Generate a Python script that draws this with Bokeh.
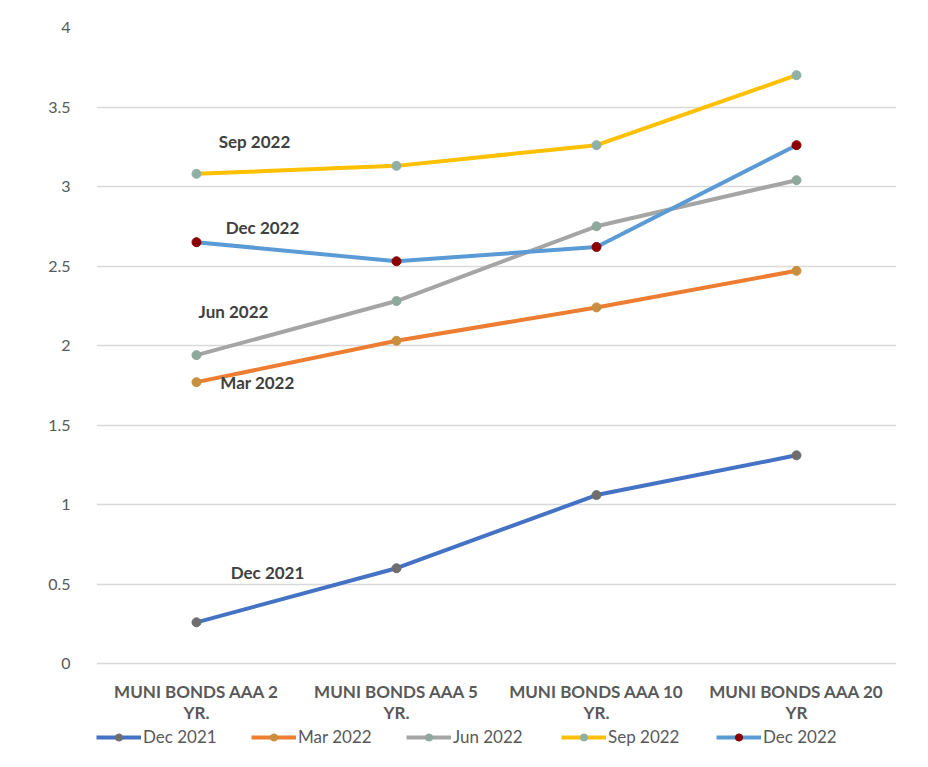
from bokeh.plotting import figure
from bokeh.models import Legend, FixedTicker, ColumnDataSource
from bokeh.core.properties import value
from bokeh.embed import file_html
from bokeh.resources import INLINE

categories = ["MUNI BONDS AAA 2\nYR.", "MUNI BONDS AAA 5\nYR.",
              "MUNI BONDS AAA 10\nYR.", "MUNI BONDS AAA 20\nYR"]
series_names = ["Dec 2021", "Mar 2022", "Jun 2022", "Sep 2022", "Dec 2022"]
dec_2021 = [0.26, 0.60, 1.06, 1.31]
mar_2022 = [1.77, 2.03, 2.24, 2.47]
jun_2022 = [1.94, 2.28, 2.75, 3.04]
sep_2022 = [3.08, 3.13, 3.26, 3.70]
dec_2022 = [2.65, 2.53, 2.62, 3.26]
y_ticks = [0, 0.5, 1, 1.5, 2, 2.5, 3, 3.5, 4]
y_tick_labels = ["0", "0.5", "1", "1.5", "2", "2.5", "3", "3.5", "4"]

all_series = [dec_2021, mar_2022, jun_2022, sep_2022, dec_2022]
line_colors = ["#4472C4", "#ED7D31", "#A5A5A5", "#FFC000", "#5B9BD5"]
marker_colors = ["#6E6E6E", "#C8903E", "#8FA89E", "#8FB0A6", "#8B0000"]
# label offsets (pixels) relative to first point of each series
label_dx = [71, 61, 37, 58, 66]
label_dy = [-50, 0, -44, -32, -15]

FONT = "Lato"

# frame extends below 0 to leave room for category labels and legend
p = figure(x_range=categories, y_range=(-0.59, 4), frame_width=800, frame_height=730,
           output_backend="svg", toolbar_location=None,
           min_border_left=96, min_border_right=20, min_border_top=27,
           min_border_bottom=4)
p.outline_line_color = None

legend_items = []
for name, vals, lc, mc in zip(series_names, all_series, line_colors, marker_colors):
    r1 = p.line(categories, vals, line_color=lc, line_width=4)
    r2 = p.scatter(categories, vals, size=9, fill_color=mc, line_color=mc)
    legend_items.append((name, [r1, r2]))

src = ColumnDataSource(dict(
    x=[categories[0]] * 5,
    y=[s[0] for s in all_series],
    text=series_names,
    dx=label_dx,
    dy=label_dy,
))
p.text(x="x", y="y", text="text", x_offset="dx", y_offset="dy", source=src,
       text_align="center", text_baseline="middle", text_font=value(FONT),
       text_font_style="bold", text_font_size="17px", text_color="#404040")

# category labels under the baseline
p.text(x=categories, y=[0] * len(categories), text=categories, y_offset=17,
       text_align="center", text_baseline="top", text_font=value(FONT),
       text_font_style="bold", text_font_size="17px", text_color="#595959",
       text_line_height=1.0)

# y axis
p.yaxis.ticker = FixedTicker(ticks=y_ticks)
p.yaxis.major_label_overrides = {t: l for t, l in zip(y_ticks, y_tick_labels)}
p.yaxis.axis_line_color = None
p.yaxis.major_tick_line_color = None
p.yaxis.minor_tick_line_color = None
p.yaxis.major_label_standoff = 20
p.yaxis.major_label_text_font = FONT
p.yaxis.major_label_text_font_size = "16px"
p.yaxis.major_label_text_color = "#595959"
p.ygrid.grid_line_color = "#D9D9D9"
p.ygrid.grid_line_width = 1.5

# x axis hidden (labels drawn as text above)
p.xaxis.visible = False
p.xgrid.grid_line_color = None

legend = Legend(items=legend_items, orientation="horizontal", location=(0, 10),
                glyph_width=45, glyph_height=18, label_standoff=2, label_width=103,
                spacing=5, padding=0, margin=0, border_line_color=None,
                background_fill_alpha=0,
                label_text_font=FONT, label_text_font_size="17px",
                label_text_color="#595959")
p.add_layout(legend, "center")

open("out.html", "w").write(file_html(p, INLINE))
